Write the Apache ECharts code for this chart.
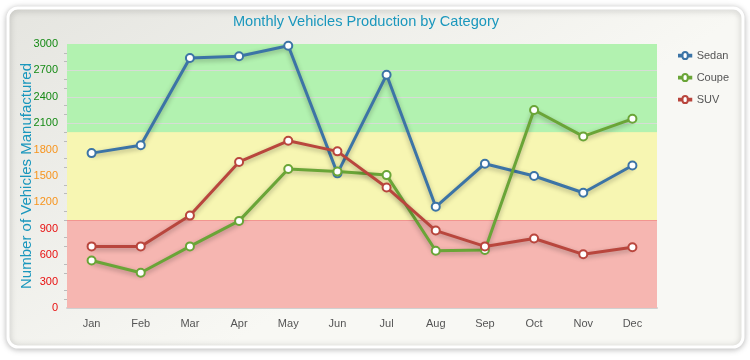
<!DOCTYPE html>
<html><head><meta charset="utf-8">
<script src="https://cdn.jsdelivr.net/npm/echarts@6/dist/echarts.min.js"></script>
<style>html,body{margin:0;padding:0;background:#fff}#c{width:750px;height:360px}</style>
</head><body><div id="c"></div>
<script>
const months = ['Jan','Feb','Mar','Apr','May','Jun','Jul','Aug','Sep','Oct','Nov','Dec'];
const sedan = [1760,1850,2840,2860,2980,1530,2650,1150,1640,1500,1310,1620];
const coupe = [540,400,700,990,1580,1550,1510,650,660,2250,1950,2150];
const suv = [700,700,1050,1660,1900,1780,1370,880,700,790,610,690];
const bandLimits = [0,1000,2000,3000];
const bandColors = ['#f6b6b1','#f7f6b2','#b2f2b0'];
const greenGridValues = [2100,2400,2700];
const colors = ['#3c74a6','#6aa537','#b9463d'];
const FONT = 'Liberation Sans, Arial, sans-serif';

const chart = echarts.init(document.getElementById('c'));
function mkSeries(name, data, color){
  return {
    name, type:'line', data, color,
    symbol:'circle', symbolSize:8,
    lineStyle:{width:3, color, shadowColor:'rgba(0,0,0,0.3)', shadowBlur:5, shadowOffsetY:2},
    itemStyle:{color:'#fff', borderColor:color, borderWidth:2},
    z:5
  };
}
const bandSeries = {
  type:'line', data:[], z:1, silent:true,
  markArea:{silent:true, data: bandColors.map((c,i)=>[
    {yAxis:bandLimits[i], itemStyle:{color:c}}, {yAxis:bandLimits[i+1]}])},
  markLine:{silent:true, symbol:'none', label:{show:false},
    data: greenGridValues.map(v=>({yAxis:v, lineStyle:{color:'#d6dcd6', width:1.2, type:'solid'}}))
      .concat([{yAxis:bandLimits[1], lineStyle:{color:'#f29590', width:1, type:'solid'}},
               {yAxis:bandLimits[2], lineStyle:{color:'#eef5b0', width:1, type:'solid'}}])}
};
chart.setOption({
  animation:false,
  graphic:[{type:'rect', z:-10, shape:{x:8,y:8,width:735,height:339,r:10},
    style:{fill:{type:'linear',x:0,y:0,x2:0.3,y2:1,colorStops:[{offset:0,color:'#e5e5e0'},{offset:1,color:'#f8f8f4'}]},
      stroke:'#fff', lineWidth:3, shadowColor:'rgba(0,0,0,0.25)', shadowBlur:6, shadowOffsetY:1}}],
  title:{text:'Monthly Vehicles Production by Category', left:361, top:9, textAlign:'center',
    textStyle:{color:'#1a97bd', fontSize:14.6, fontWeight:'normal', fontFamily:FONT}},
  legend:{orient:'vertical', left:678, top:50, padding:0, itemGap:11, itemWidth:13, itemHeight:7,
    data:['Sedan','Coupe','SUV'],
    icon:'path://M0,3 L4,3 A3,3 0 1,1 10,3 L14,3 L14,5 L10,5 A3,3 0 1,1 4,5 L0,5 Z',
    textStyle:{color:'#555', fontSize:11, fontFamily:FONT}},
  grid:{left:67, right:93, top:44, bottom:52, outerBoundsMode:'none', containLabel:false},
  xAxis:{type:'category', data:months, boundaryGap:true,
    axisLine:{lineStyle:{color:'#d0d0d0', width:2}}, axisTick:{show:false},
    axisLabel:{color:'#555', fontSize:11, margin:10, fontFamily:FONT}},
  yAxis:{type:'value', min:0, max:3000, interval:300,
    name:'Number of Vehicles Manufactured', nameLocation:'middle', nameGap:33, nameMoveOverlap:false,
    nameTextStyle:{color:'#1a97bd', fontSize:15, fontFamily:FONT},
    axisLine:{show:false}, axisTick:{show:false},
    minorTick:{show:true, splitNumber:3, length:3, lineStyle:{color:'#bbb'}},
    splitLine:{show:false},
    axisLabel:{fontSize:11, margin:9, fontFamily:FONT, formatter:v=>String(v),
      color:v=> v<1000 ? '#e81010' : (v<2000 ? '#f7941d' : '#158a15')}},
  series:[bandSeries, mkSeries('Sedan', sedan, colors[0]), mkSeries('Coupe', coupe, colors[1]), mkSeries('SUV', suv, colors[2])]
});
</script></body></html>
